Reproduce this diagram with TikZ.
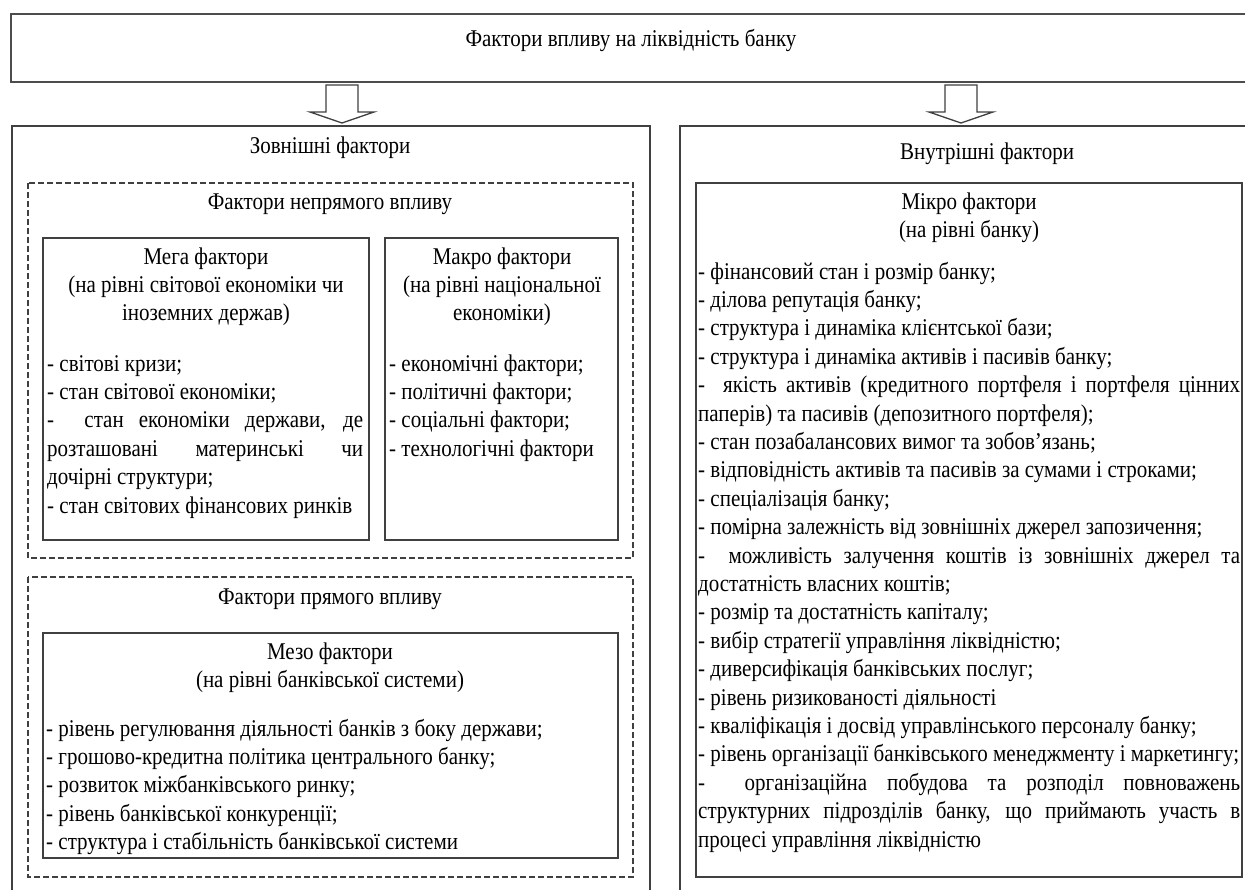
\documentclass[tikz,border=0pt]{standalone}
\usepackage{fontspec}
\setmainfont[FakeStretch=0.875]{Liberation Serif}
\newcommand{\jl}[2]{\makebox[#1][s]{#2}}
\begin{document}
\begin{tikzpicture}[x=1pt,y=-1pt,
  box/.style={draw=black!75,line width=1.5pt},
  topbox/.style={draw=black!70,line width=2.2pt},
  dbox/.style={draw=black!75,line width=1.3pt,dash pattern=on 6pt off 3pt},
  txt/.style={inner sep=0pt,text=black,font=\fontsize{24}{28.4}\selectfont},
  ctitle/.style={txt,anchor=north,align=center},
  items/.style={txt,anchor=north west,align=left},
  blockarrow/.style={draw=black!75,line width=1.3pt,fill=white,line join=miter}]
\useasboundingbox (0,0) rectangle (1245,890);
\clip (0,0) rectangle (1245,890);
% boxes
\draw[topbox] (11,14) rectangle (1300,82);
\node[inner sep=0pt] (top) at (631,48) {};
\draw[box] (12,126) rectangle (650,920);
\draw[box] (680,126) rectangle (1294,920);
\draw[dbox] (28,183) rectangle (633,558);
\draw[dbox] (28,577) rectangle (633,877);
\draw[box] (43,238) rectangle (369,540);
\draw[box] (385,238) rectangle (618,540);
\draw[box] (43,633) rectangle (618,858);
\draw[box] (696,183) rectangle (1242,877);
% arrows
\coordinate (ar1) at (342,85);
\coordinate (ar2) at (961,85);
\draw[blockarrow] (ar1) +(-16,0) -- +(-16,27) -- +(-32,27) -- +(0,38) -- +(32,27) -- +(16,27) -- +(16,0) -- cycle;
\draw[blockarrow] (ar2) +(-16,0) -- +(-16,27) -- +(-32,27) -- +(0,38) -- +(32,27) -- +(16,27) -- +(16,0) -- cycle;
% texts
\node[ctitle] (ttl) at (631,26) {\strut Фактори впливу на ліквідність банку};
\node[ctitle] (ext) at (330,133) {\strut Зовнішні фактори};
\node[ctitle] (ind) at (330,189) {\strut Фактори непрямого впливу};
\node[ctitle] (mega) at (206,244) {\strut Мега фактори\\(на рівні світової економіки чи\\іноземних держав)};
\node[items] (megai) at (47,351) {\strut - світові кризи;\\
- стан світової економіки;\\
\jl{316pt}{- \ стан економіки держави, де}\\
\jl{316pt}{розташовані материнські чи}\\
дочірні структури;\\
- стан світових фінансових ринків};
\node[ctitle] (macro) at (502,244) {\strut Макро фактори\\(на рівні національної\\економіки)};
\node[items] (macroi) at (389,351) {\strut - економічні фактори;\\
- політичні фактори;\\
- соціальні фактори;\\
- технологічні фактори};
\node[ctitle] (dir) at (330,584) {\strut Фактори прямого впливу};
\node[ctitle] (meso) at (330,639) {\strut Мезо фактори\\(на рівні банківської системи)};
\node[items] (mesoi) at (46,716) {\strut - рівень регулювання діяльності банків з боку держави;\\
- грошово-кредитна політика центрального банку;\\
- розвиток міжбанківського ринку;\\
- рівень банківської конкуренції;\\
- структура і стабільність банківської системи};
\node[ctitle] (int) at (987,139) {\strut Внутрішні фактори};
\node[ctitle] (micro) at (969,189) {\strut Мікро фактори\\(на рівні банку)};
\node[items] (microi) at (698,259) {\strut - фінансовий стан і розмір банку;\\
- ділова репутація банку;\\
- структура і динаміка клієнтської бази;\\
- структура і динаміка активів і пасивів банку;\\
\jl{542pt}{- \ якість активів (кредитного портфеля і портфеля цінних}\\
паперів) та пасивів (депозитного портфеля);\\
- стан позабалансових вимог та зобов’язань;\\
- відповідність активів та пасивів за сумами і строками;\\
- спеціалізація банку;\\
- помірна залежність від зовнішніх джерел запозичення;\\
\jl{542pt}{- \ можливість залучення коштів із зовнішніх джерел та}\\
достатність власних коштів;\\
- розмір та достатність капіталу;\\
- вибір стратегії управління ліквідністю;\\
- диверсифікація банківських послуг;\\
- рівень ризикованості діяльності\\
- кваліфікація і досвід управлінського персоналу банку;\\
- рівень організації банківського менеджменту і маркетингу;\\
\jl{542pt}{- \ організаційна побудова та розподіл повноважень}\\
\jl{542pt}{структурних підрозділів банку, що приймають участь в}\\
процесі управління ліквідністю};
\end{tikzpicture}
\end{document}
